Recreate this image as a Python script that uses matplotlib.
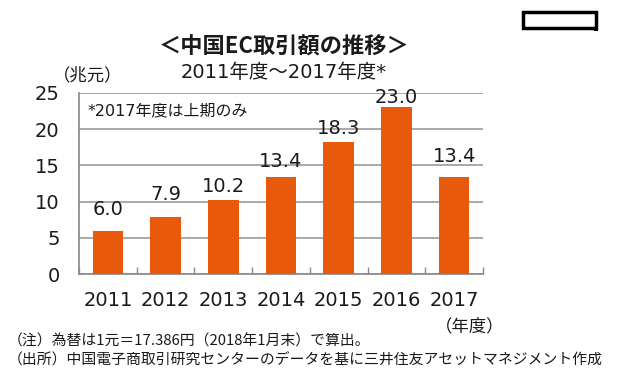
import matplotlib
matplotlib.use("Agg")
import matplotlib.pyplot as plt
from matplotlib.patches import Rectangle
import numpy as np

plt.rcParams['font.family'] = ['Noto Sans CJK JP', 'DejaVu Sans']
NUM = ['DejaVu Sans', 'Noto Sans CJK JP']

years = ['2011', '2012', '2013', '2014', '2015', '2016', '2017']
values = [6.0, 7.9, 10.2, 13.4, 18.3, 23.0, 13.4]
yticks = [0, 5, 10, 15, 20, 25]

# style: gap (px) between bar top and its value label, as in the reference
label_gap_px = [17, 18, 9, 11, 9, 6, 16]

W, H = 617, 390
fig = plt.figure(figsize=(W / 100, H / 100), dpi=100)
ax = fig.add_axes([79 / W, 1 - 274 / H, (483 - 79) / W, (274 - 93) / H])

x = np.arange(len(years))
ax.bar(x, values, width=0.53, color='#E8590C', zorder=3)
for xi, v, g in zip(x, values, label_gap_px):
    ax.annotate(f'{v:.1f}', (xi, v), xytext=(0, g * 0.72 - 3.8), textcoords='offset points',
                ha='center', va='bottom', fontsize=14, color='#1a1a1a', zorder=4,
                family=NUM, annotation_clip=False)

ax.set_xlim(-0.5, len(years) - 0.5)
ax.set_ylim(0, 25)
ax.set_yticks(yticks)
ax.set_yticklabels([str(t) for t in yticks], fontsize=14, color='#1a1a1a', family=NUM)
ax.tick_params(axis='y', length=0, pad=14)
ax.set_xticks(x)
ax.set_xticklabels(years, fontsize=14, color='#1a1a1a', family=NUM)
ax.tick_params(axis='x', which='major', length=0, pad=12)
ax.set_xticks(np.arange(-0.5, len(years)), minor=True)
ax.tick_params(axis='x', which='minor', direction='in', length=5, color='#888888', width=1)
ax.grid(axis='y', color='#999999', linewidth=1.2, zorder=0)
for s in ['top', 'right']:
    ax.spines[s].set_visible(False)
for s in ['left', 'bottom']:
    ax.spines[s].set_color('#888888')
    ax.spines[s].set_linewidth(1.2)

ax.text(0.02, 0.94, '*2017年度は上期のみ', transform=ax.transAxes, fontsize=11.5,
        ha='left', va='top', color='#1a1a1a', family=NUM)

fig.text(284 / W, 1 - 47 / H, '＜中国EC取引額の推移＞', ha='center', va='center',
         fontsize=16, fontweight='bold', color='#1a1a1a')
fig.text(284 / W, 1 - 72 / H, '2011年度～2017年度*', ha='center', va='center',
         fontsize=14, color='#1a1a1a', family=NUM)
fig.text(88 / W, 1 - 75 / H, '（兆元）', ha='center', va='center',
         fontsize=12.5, color='#1a1a1a')
fig.text(470 / W, 1 - 326 / H, '（年度）', ha='center', va='center',
         fontsize=12.5, color='#1a1a1a')
fig.text(8 / W, 1 - 341 / H, '（注）為替は1元＝17.386円（2018年1月末）で算出。', ha='left',
         va='center', fontsize=10.7, color='#1a1a1a')
fig.text(8 / W, 1 - 360 / H, '（出所）中国電子商取引研究センターのデータを基に三井住友アセットマネジメント作成',
         ha='left', va='center', fontsize=10.7, color='#1a1a1a')

fig.patches.append(Rectangle((523 / W, 1 - 28 / H), (596 - 523) / W, (28 - 12) / H,
                             transform=fig.transFigure, fill=False, edgecolor='black',
                             linewidth=2.5))
fig.patches.append(Rectangle((594 / W, 1 - 31 / H), 4 / W, 4 / H,
                             transform=fig.transFigure, facecolor='black', edgecolor='none'))

fig.savefig('out.png', dpi=100, facecolor='white')
